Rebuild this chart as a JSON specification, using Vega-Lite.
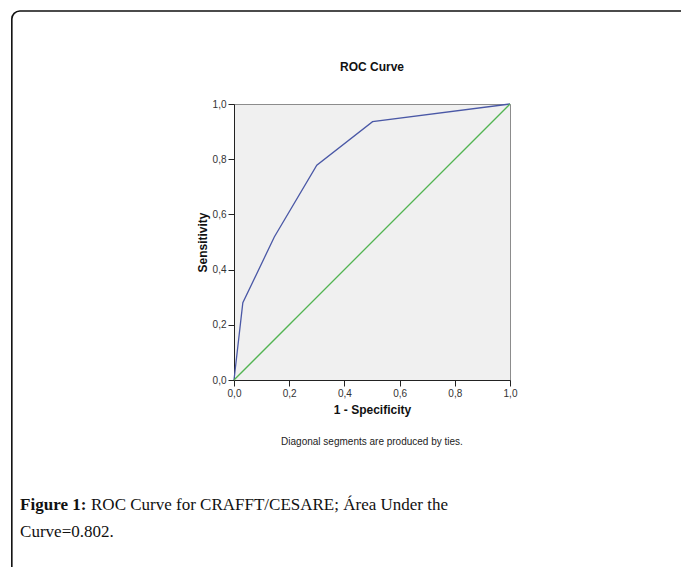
{
  "$schema": "https://vega.github.io/schema/vega-lite/v6.json",
  "width": 276,
  "height": 276,
  "autosize": {"type": "none"},
  "padding": {"left": 234, "top": 104, "right": 171, "bottom": 187},
  "background": "white",
  "config": {
    "locale": {"number": {"decimal": ",", "thousands": ".", "grouping": [3], "currency": ["", ""]}},
    "view": {"fill": "#f0f0f0", "stroke": "#8c8c8c"},
    "axis": {
      "domainColor": "#222", "tickColor": "#222", "tickSize": 6, "grid": false,
      "labelFont": "Liberation Sans", "labelFontSize": 10, "labelColor": "#333", "labelFlush": false,
      "titleFont": "Liberation Sans", "titleFontSize": 12, "titleFontWeight": "bold", "titleColor": "#111",
      "labelPadding": 2
    }
  },
  "datasets": {
    "roc": [
      {"curve": "roc", "fpr": 0.0, "tpr": 0.0},
      {"curve": "roc", "fpr": 0.032, "tpr": 0.28},
      {"curve": "roc", "fpr": 0.146, "tpr": 0.518},
      {"curve": "roc", "fpr": 0.3, "tpr": 0.778},
      {"curve": "roc", "fpr": 0.502, "tpr": 0.936},
      {"curve": "roc", "fpr": 1.0, "tpr": 1.0},
      {"curve": "diag", "fpr": 0.0, "tpr": 0.0},
      {"curve": "diag", "fpr": 1.0, "tpr": 1.0}
    ],
    "heading": [{"label": "ROC Curve"}],
    "note": [{"label": "Diagonal segments are produced by ties."}],
    "capBold": [{"label": "Figure 1:"}],
    "cap1": [{"label": "ROC Curve for CRAFFT/CESARE; Área Under the"}],
    "cap2": [{"label": "Curve=0.802."}],
    "frame": [{"label": "frame"}]
  },
  "layer": [
    {
      "data": {"name": "frame"},
      "mark": {"type": "rect", "fill": null, "stroke": "#111", "strokeWidth": 1.6, "cornerRadius": 8},
      "encoding": {
        "x": {"datum": -0.805, "type": "quantitative", "scale": {"domain": [0, 1]}},
        "x2": {"datum": 1.8},
        "y": {"datum": 1.337, "type": "quantitative", "scale": {"domain": [0, 1]}},
        "y2": {"datum": -1.0}
      }
    },
    {
      "data": {"name": "roc"},
      "mark": {"type": "line", "strokeWidth": 1.3},
      "encoding": {
        "x": {"field": "fpr", "type": "quantitative", "scale": {"domain": [0, 1]},
              "axis": {"title": "1 - Specificity", "values": [0, 0.2, 0.4, 0.6, 0.8, 1.0], "format": ".1f", "titlePadding": 6}},
        "y": {"field": "tpr", "type": "quantitative", "scale": {"domain": [0, 1]},
              "axis": {"title": "Sensitivity", "values": [0, 0.2, 0.4, 0.6, 0.8, 1.0], "format": ".1f", "titlePadding": 3}},
        "color": {"field": "curve", "type": "nominal", "scale": {"domain": ["roc", "diag"], "range": ["#4a58a6", "#52b452"]}, "legend": null},
        "order": {"field": "fpr"}
      }
    },
    {
      "data": {"name": "heading"},
      "mark": {"type": "text", "font": "Liberation Sans", "fontSize": 12, "fontWeight": "bold", "color": "#111", "align": "center", "baseline": "middle"},
      "encoding": {
        "x": {"datum": 0.5, "type": "quantitative"},
        "y": {"datum": 1.133, "type": "quantitative"},
        "text": {"field": "label"}
      }
    },
    {
      "data": {"name": "note"},
      "mark": {"type": "text", "font": "Liberation Sans", "fontSize": 10, "color": "#222", "align": "center", "baseline": "middle"},
      "encoding": {
        "x": {"datum": 0.5, "type": "quantitative"},
        "y": {"datum": -0.226, "type": "quantitative"},
        "text": {"field": "label"}
      }
    },
    {
      "data": {"name": "capBold"},
      "mark": {"type": "text", "font": "Liberation Serif", "fontSize": 17, "fontWeight": "bold", "color": "#111", "align": "left", "baseline": "middle"},
      "encoding": {
        "x": {"datum": -0.775, "type": "quantitative"},
        "y": {"datum": -0.452, "type": "quantitative"},
        "text": {"field": "label"}
      }
    },
    {
      "data": {"name": "cap1"},
      "mark": {"type": "text", "font": "Liberation Serif", "fontSize": 17, "color": "#111", "align": "left", "baseline": "middle"},
      "encoding": {
        "x": {"datum": -0.518, "type": "quantitative"},
        "y": {"datum": -0.452, "type": "quantitative"},
        "text": {"field": "label"}
      }
    },
    {
      "data": {"name": "cap2"},
      "mark": {"type": "text", "font": "Liberation Serif", "fontSize": 17, "color": "#111", "align": "left", "baseline": "middle"},
      "encoding": {
        "x": {"datum": -0.775, "type": "quantitative"},
        "y": {"datum": -0.552, "type": "quantitative"},
        "text": {"field": "label"}
      }
    }
  ]
}
